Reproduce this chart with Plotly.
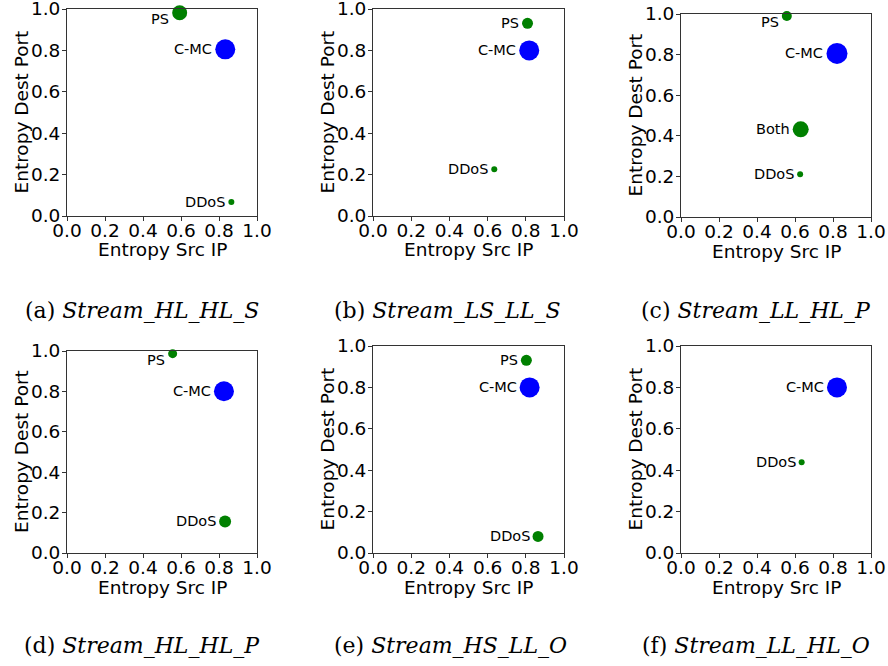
import plotly.graph_objects as go

W, H = 888, 666

# ---------------- data ----------------
panel_letters = ["a", "b", "c", "d", "e", "f"]
panel_names = ["Stream_HL_HL_S", "Stream_LS_LL_S", "Stream_LL_HL_P",
               "Stream_HL_HL_P", "Stream_HS_LL_O", "Stream_LL_HL_O"]

labels_a = ["PS", "C-MC", "DDoS"]
src_a = [0.593, 0.833, 0.865]
dst_a = [0.982, 0.805, 0.068]
mag_a = [15, 20, 6]

labels_b = ["PS", "C-MC", "DDoS"]
src_b = [0.809, 0.818, 0.635]
dst_b = [0.931, 0.800, 0.226]
mag_b = [11, 20, 6]

labels_c = ["PS", "C-MC", "Both", "DDoS"]
src_c = [0.557, 0.821, 0.630, 0.627]
dst_c = [0.990, 0.806, 0.432, 0.210]
mag_c = [10, 21, 16, 6]

labels_d = ["PS", "C-MC", "DDoS"]
src_d = [0.556, 0.826, 0.832]
dst_d = [0.987, 0.801, 0.156]
mag_d = [9, 20, 12]

labels_e = ["PS", "C-MC", "DDoS"]
src_e = [0.803, 0.820, 0.864]
dst_e = [0.931, 0.800, 0.080]
mag_e = [11, 20, 11]

labels_f = ["C-MC", "DDoS"]
src_f = [0.821, 0.635]
dst_f = [0.800, 0.438]
mag_f = [20, 6]

tick_vals = [0.0, 0.2, 0.4, 0.6, 0.7999999, 1.0]
tick_text = ["0.0", "0.2", "0.4", "0.6", "0.8", "1.0"]
x_title = "Entropy Src IP"
y_title = "Entropy Dest Port"

panels = [
    (labels_a, src_a, dst_a, mag_a),
    (labels_b, src_b, dst_b, mag_b),
    (labels_c, src_c, dst_c, mag_c),
    (labels_d, src_d, dst_d, mag_d),
    (labels_e, src_e, dst_e, mag_e),
    (labels_f, src_f, dst_f, mag_f),
]

# ---------------- layout (pixel boxes) ----------------
boxes = [  # left, right, top, bottom in px
    (67, 257, 9, 216),
    (373, 564, 9, 216),
    (681, 871, 14, 217),
    (67, 257, 351, 553),
    (373, 564, 346, 553),
    (681, 871, 346, 553),
]
caption_pos = [(142, 310), (448, 310), (756, 310),
               (142, 645), (450, 645), (756, 645)]

BLUE = "#0000ff"
GREEN = "#008000"
FONT = "DejaVu Sans"
FS = 18.5

fig = go.Figure()
annotations = []
layout = {}

for i, ((labs, xs, ys, ms), (l, r, t, b)) in enumerate(zip(panels, boxes)):
    n = "" if i == 0 else str(i + 1)
    xa, ya = "x" + n, "y" + n
    colors = [BLUE if lab == "C-MC" else GREEN for lab in labs]
    fig.add_trace(go.Scatter(
        x=xs, y=ys, mode="markers", xaxis=xa, yaxis=ya,
        marker=dict(size=ms, color=colors, opacity=1, line=dict(width=0)),
        cliponaxis=False, showlegend=False, hoverinfo="skip"))
    for lab, x, y, m in zip(labs, xs, ys, ms):
        annotations.append(dict(
            x=x, y=y, xref=xa, yref=ya, text=lab, showarrow=False,
            xanchor="right", yanchor="middle",
            xshift=-(m / 2 + 1), yshift=(-6 if y > 0.95 else 0),
            font=dict(family=FONT, size=14.5, color="black")))
    axis_common = dict(
        range=[0, 1], tickvals=tick_vals, ticktext=tick_text,
        showline=True, linecolor="#333333", linewidth=1, mirror=True,
        ticks="outside", ticklen=4, tickwidth=1, tickcolor="#333333",
        showgrid=False, zeroline=False, fixedrange=True, automargin=False,
        ticklabeloverflow="allow",
        tickfont=dict(family=FONT, size=FS, color="black"))
    layout["xaxis" + n] = dict(axis_common, domain=[l / W, r / W], anchor=ya,
                               ticklabelstandoff=-6)
    layout["yaxis" + n] = dict(axis_common, domain=[1 - b / H, 1 - t / H],
                               anchor=xa, ticklabelstandoff=-2)
    # axis titles
    annotations.append(dict(
        x=(l + r) / 2 / W, y=1 - (b + 34) / H, xref="paper", yref="paper",
        text=x_title, showarrow=False, xanchor="center", yanchor="middle",
        font=dict(family=FONT, size=FS, color="black")))
    annotations.append(dict(
        x=(l - 46) / W, y=1 - (t + b) / 2 / H, xref="paper", yref="paper",
        text=y_title, showarrow=False, xanchor="center", yanchor="middle",
        textangle=-90, font=dict(family=FONT, size=FS, color="black")))
    cx, cy = caption_pos[i]
    annotations.append(dict(
        x=cx / W, y=1 - cy / H, xref="paper", yref="paper",
        text="(" + panel_letters[i] + ") <i>" + panel_names[i] + "</i>",
        showarrow=False, xanchor="center", yanchor="middle",
        font=dict(family="DejaVu Serif", size=22, color="black")))

fig.update_layout(
    width=W, height=H, margin=dict(l=0, r=0, t=0, b=0),
    paper_bgcolor="white", plot_bgcolor="white",
    annotations=annotations, **layout)

fig.write_html("out.html", config={"displayModeBar": False},
               post_script="document.body.style.margin='0';"
                           "document.body.style.overflow='hidden';")
